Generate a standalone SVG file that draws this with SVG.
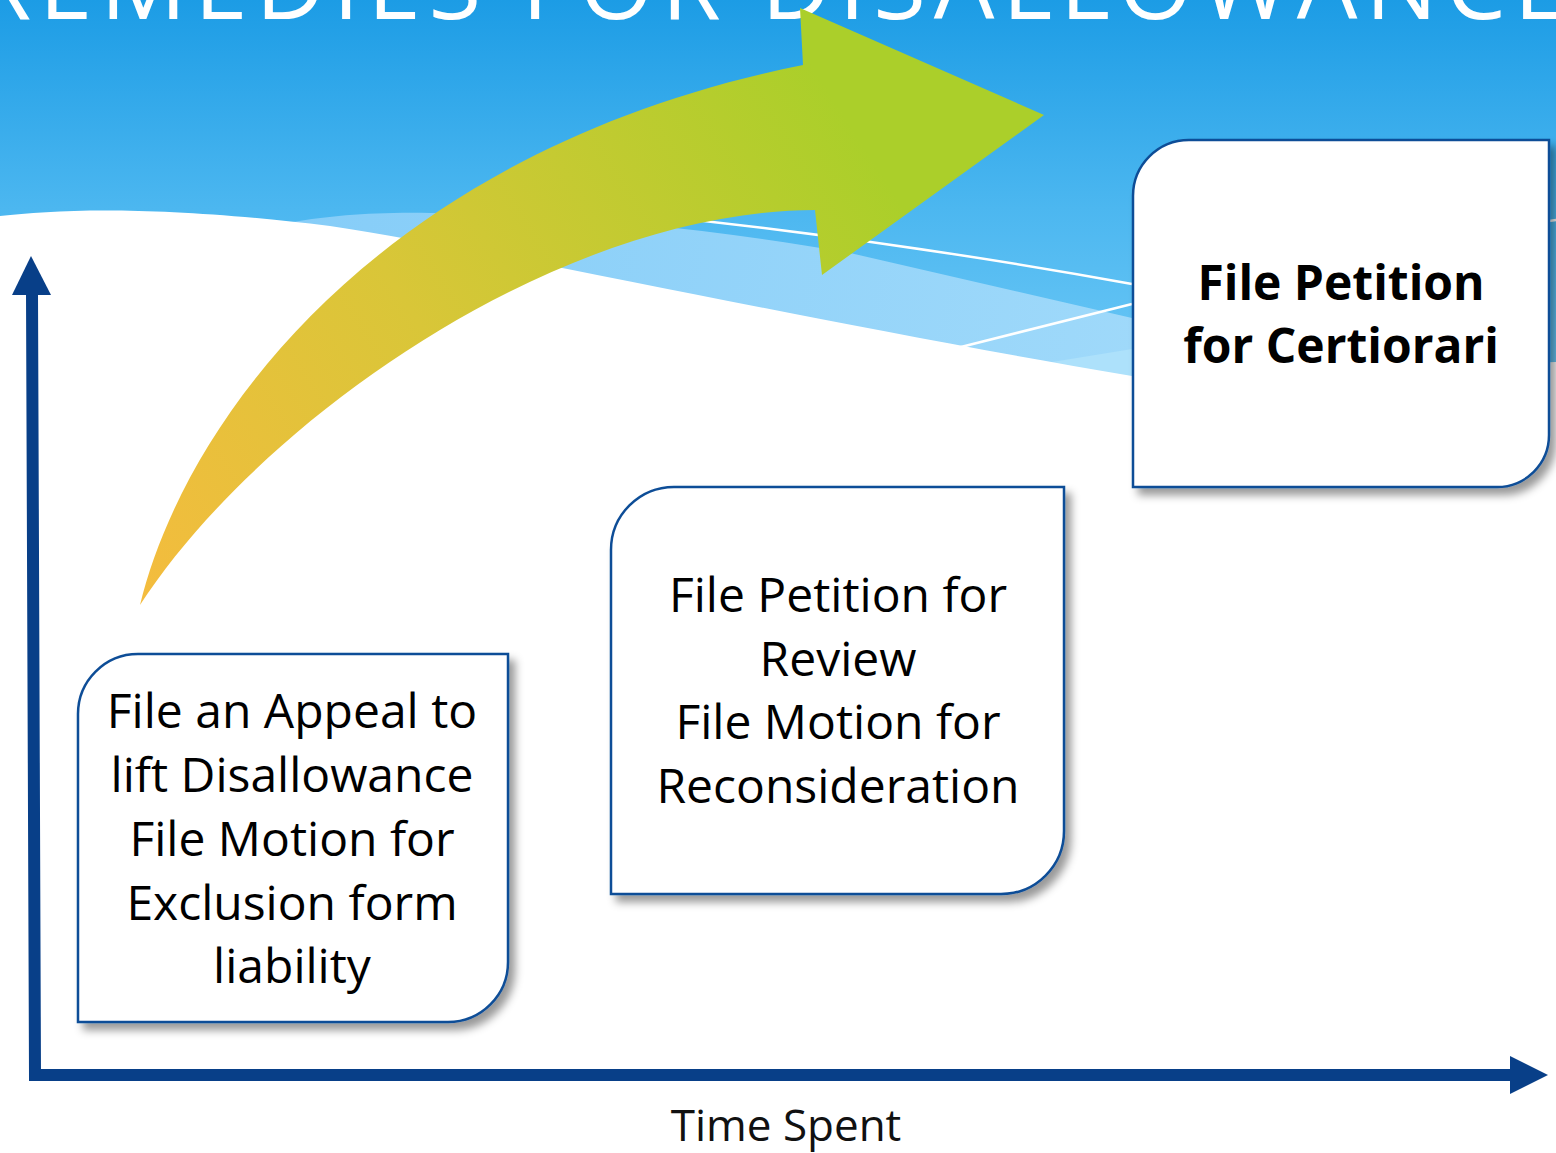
<svg xmlns="http://www.w3.org/2000/svg" width="1556" height="1153" viewBox="0 0 1556 1153">
  <defs>
    <linearGradient id="sky" x1="0" y1="0" x2="0" y2="380" gradientUnits="userSpaceOnUse">
      <stop offset="0" stop-color="#1C9CE5"/>
      <stop offset="0.55" stop-color="#4CB7F0"/>
      <stop offset="1" stop-color="#6CC8F6"/>
    </linearGradient>
    <linearGradient id="band" x1="300" y1="210" x2="1132" y2="380" gradientUnits="userSpaceOnUse">
      <stop offset="0" stop-color="#86CDF8"/>
      <stop offset="1" stop-color="#9FD9FA"/>
    </linearGradient>
    <linearGradient id="sweep" x1="140" y1="600" x2="860" y2="140" gradientUnits="userSpaceOnUse">
      <stop offset="0" stop-color="#F4BC3E"/>
      <stop offset="0.45" stop-color="#D9C638"/>
      <stop offset="1" stop-color="#ABCF2A"/>
    </linearGradient>
    <filter id="shadow" x="-10%" y="-10%" width="125%" height="125%">
      <feDropShadow dx="6" dy="7" stdDeviation="4" flood-color="#000" flood-opacity="0.4"/>
    </filter>
    <style>
      .box { fill: #FFFFFF; stroke: #104E97; stroke-width: 2.5; filter: url(#shadow); }
      .label { font-family: "Open Sans", "Liberation Sans", sans-serif; font-size: 48px; fill: #000; text-anchor: middle; }
      .bold { font-weight: bold; font-size: 48px; }
      .axis { fill: none; stroke: #083F88; stroke-width: 12; stroke-linejoin: miter; }
      .head { fill: #083F88; }
      .wline { fill: none; stroke: #FFFFFF; stroke-width: 2.5; }
    </style>
  </defs>

  <!-- backdrop: sky, light bands and white ground -->
  <rect x="0" y="0" width="1556" height="1153" fill="#FFFFFF"/>
  <rect x="0" y="0" width="1556" height="420" fill="url(#sky)"/>
  <path d="M293,222 C330,216 370,212 430,213 C580,215 720,230 850,253 L1132,318 L1556,400 L1556,460 L293,460 Z" fill="url(#band)"/>
  <path d="M1040,364 L1132,349 L1132,400 L1040,400 Z" fill="#ADE1FB"/>
  <path d="M0,216 C60,209 160,205 330,226 C520,255 800,320 1132,376 L1556,362 L1556,1153 L0,1153 Z" fill="#FFFFFF"/>
  <path class="wline" d="M620,212 Q880,238 1132,284"/>
  <path class="wline" d="M953,349 L1132,304"/>
  <path class="wline" d="M1549,221 L1556,220"/>

  <!-- title, partly above the top edge -->
  <text x="-28" y="19" textLength="1595" lengthAdjust="spacing" font-family="Open Sans, Liberation Sans, sans-serif" font-size="96" fill="#FFFFFF">REMEDIES FOR DISALLOWANCE</text>

  <!-- curved progress arrow -->
  <path d="M140,605 C185,420 380,150 803,65 L800,8 L1044,115 L822,275 L815,210 C560,210 260,420 140,605 Z" fill="url(#sweep)"/>

  <!-- axes -->
  <g id="connectors">
    <path class="axis" d="M32,292 L35,1075 L1512,1075"/>
    <polygon class="head" points="12,295 31,256 51,295"/>
    <polygon class="head" points="1510,1056 1548,1075 1510,1094"/>
  </g>

  <g id="node-appeal">
    <path class="box" d="M78,714 A60,60 0 0 1 138,654 L508,654 L508,962 A60,60 0 0 1 448,1022 L78,1022 Z"/>
    <text class="label" x="292" y="728">File an Appeal to</text>
    <text class="label" x="292" y="792">lift Disallowance</text>
    <text class="label" x="292" y="856">File Motion for</text>
    <text class="label" x="292" y="920">Exclusion form</text>
    <text class="label" x="292" y="983">liability</text>
  </g>

  <g id="node-review">
    <path class="box" d="M611,550 A63,63 0 0 1 674,487 L1064,487 L1064,831 A63,63 0 0 1 1001,894 L611,894 Z"/>
    <text class="label" x="838" y="612">File Petition for</text>
    <text class="label" x="838" y="676">Review</text>
    <text class="label" x="838" y="739">File Motion for</text>
    <text class="label" x="838" y="803">Reconsideration</text>
  </g>

  <g id="node-certiorari">
    <path class="box" d="M1133,196 A56,56 0 0 1 1189,140 L1549,140 L1549,435 A52,52 0 0 1 1497,487 L1133,487 Z"/>
    <text class="label bold" x="1341" y="300">File Petition</text>
    <text class="label bold" x="1341" y="363">for Certiorari</text>
  </g>

  <text x="786" y="1141" font-family="Open Sans, Liberation Sans, sans-serif" font-size="44" fill="#111111" text-anchor="middle">Time Spent</text>
</svg>
